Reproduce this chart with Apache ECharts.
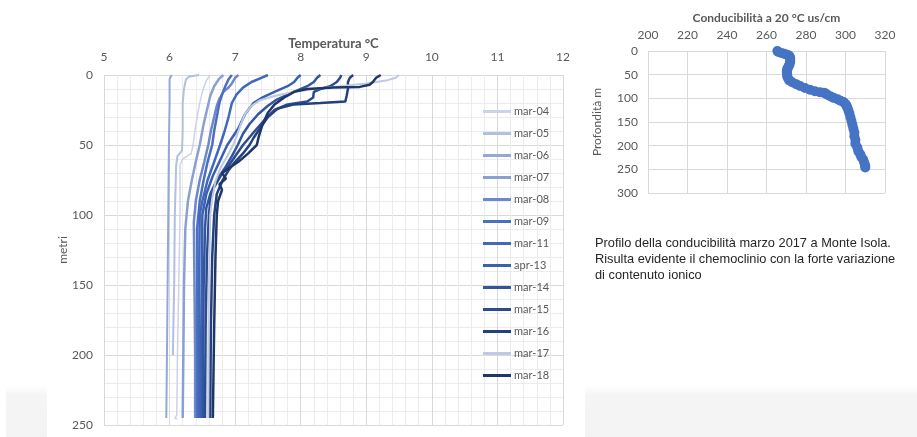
<!DOCTYPE html>
<html>
<head>
<meta charset="utf-8">
<script src="https://cdn.jsdelivr.net/npm/echarts@6/dist/echarts.min.js"></script>
<style>
  html, body { margin: 0; padding: 0; background: #ffffff; }
  #chart { width: 917px; height: 437px; }
</style>
</head>
<body>
<div id="chart"></div>
<script>
// Temperature profiles: each is a list of [temperature °C, depth m]
const seriesNames = ['mar-04','mar-05','mar-06','mar-07','mar-08','mar-09','mar-11','apr-13','mar-14','mar-15','mar-16','mar-17','mar-18'];
const seriesColors = ['#cbd3ea','#b2bfe0','#93a8d8','#8a9fd4','#6f88cb','#4a70c1','#4068bb','#3a60b0','#32559f','#2b4c90','#24407e','#bfc9e3','#1f3767'];
const seriesWidths = [1.5, 2, 2, 2.5, 2.5, 2.5, 2.5, 2.5, 2.5, 2.5, 2.5, 2, 2.5];

const mar04 = [[6.62,0],[6.56,4],[6.5,12],[6.46,20],[6.42,30],[6.38,42],[6.36,50],[6.33,56],[6.2,60],[6.16,64],[6.16,100],[6.14,150],[6.12,200],[6.11,243],[6.08,245],[6.12,246]];
const mar05 = [[6.45,0],[6.3,1],[6.25,3],[6.22,10],[6.2,20],[6.2,40],[6.19,54],[6.12,58],[6.1,65],[6.08,100],[6.07,150],[6.05,200]];
const mar06 = [[6.03,0],[6.0,3],[6.0,20],[5.99,50],[5.98,100],[5.97,150],[5.96,200],[5.95,245]];
const mar07 = [[6.82,0],[6.75,3],[6.68,8],[6.62,15],[6.57,25],[6.52,35],[6.46,50],[6.4,62],[6.34,75],[6.28,90],[6.24,110],[6.22,150],[6.21,200],[6.2,245]];
const mar08 = [[7.05,0],[7.0,2],[6.95,6],[6.9,9],[6.82,12],[6.76,17],[6.72,22],[6.68,30],[6.63,40],[6.59,50],[6.53,62],[6.46,75],[6.4,90],[6.37,105],[6.38,150],[6.39,200],[6.39,245]];
const mar09 = [[6.95,0],[6.9,3],[6.85,8],[6.8,14],[6.76,20],[6.72,30],[6.68,40],[6.65,50],[6.58,62],[6.52,75],[6.46,90],[6.42,110],[6.42,150],[6.42,200],[6.42,245]];
const mar11 = [[7.5,0],[7.4,2],[7.25,5],[7.12,9],[7.02,14],[6.95,20],[6.9,30],[6.84,40],[6.77,50],[6.68,62],[6.58,75],[6.5,90],[6.46,100],[6.45,150],[6.45,200],[6.45,245]];
const apr13 = [[8.0,0],[7.95,2],[7.9,5],[7.8,8],[7.6,12],[7.42,16],[7.28,20],[7.15,28],[7.05,38],[6.88,50],[6.78,60],[6.66,72],[6.56,85],[6.5,100],[6.49,150],[6.48,200],[6.48,245]];
const mar14 = [[8.3,0],[8.25,2],[8.2,5],[8.1,8],[7.95,11],[7.8,14],[7.62,18],[7.5,22],[7.35,28],[7.22,35],[7.12,42],[7.04,50],[6.95,58],[6.85,66],[6.72,75],[6.62,85],[6.56,95],[6.54,110],[6.52,150],[6.51,200],[6.51,245]];
const mar15 = [[8.62,0],[8.6,2],[8.55,5],[8.45,8],[8.3,10],[8.2,12],[8.19,16],[8.1,19],[7.8,21],[7.6,25],[7.45,32],[7.3,40],[7.12,50],[7.0,58],[6.9,65],[6.78,72],[6.68,80],[6.62,90],[6.6,100],[6.57,130],[6.55,180],[6.54,245]];
const mar16 = [[8.8,0],[8.75,2],[8.72,5],[8.72,10],[8.7,15],[8.68,19],[8.3,20],[7.9,21],[7.65,24],[7.5,30],[7.38,38],[7.28,45],[7.22,50],[7.12,56],[7.0,62],[6.9,68],[6.8,76],[6.72,85],[6.68,100],[6.65,130],[6.63,180],[6.62,245]];
const mar17 = [[9.5,0],[9.45,2],[9.3,4],[9.0,6],[8.6,8],[8.2,10],[7.9,12],[7.6,15],[7.38,18],[7.25,22],[7.15,28],[7.08,36],[7.02,44],[6.97,50],[6.88,58],[6.78,66],[6.7,76],[6.65,88],[6.62,100],[6.6,150],[6.59,200],[6.59,245]];
const mar18 = [[9.22,0],[9.15,2],[9.1,5],[9.05,7],[8.9,8.5],[8.5,9],[8.1,10],[7.9,12],[7.75,16],[7.6,21],[7.5,27],[7.42,35],[7.36,44],[7.33,50],[7.2,56],[7.05,62],[6.92,66],[6.8,70],[6.86,74],[6.76,78],[6.8,82],[6.74,90],[6.72,100],[6.7,130],[6.68,180],[6.66,245]];
const profiles = [mar04, mar05, mar06, mar07, mar08, mar09, mar11, apr13, mar14, mar15, mar16, mar17, mar18];

// Conductivity profile (March 2017): depth m and conductivity at 20 °C in µS/cm
const condDepth = [0,2,4,6,8,10,14,18,22,26,30,34,38,42,46,50,54,58,62,66,70,74,78,82,85,87,88,90,93,96,99,102,105,108,112,116,120,126,132,140,148,156,164,172,180,188,196,204,212,218,224,230,236,242,246];
const condValue = [265.5,266,267.5,269,270.5,271.5,272,272,272,271.8,271.5,271,270.5,270.3,270.3,270.5,270.5,271,271.5,273,275,277,279.5,282,284.5,287,289,290,291,292.5,294,296,297.5,299,300,300.5,301,301.5,302,302.5,303,303.5,304,304.5,304.5,305,305,306,306.5,307.5,308,309,309.5,310,310];

// Axis ticks
const tempTicks = { min: 5, max: 12, step: 1 };
const depthTicks = { min: 0, max: 250, step: 50 };
const condTicks = { min: 200, max: 320, step: 20 };
const condDepthTicks = { min: 0, max: 300, step: 50 };

const caption = ['Profilo della conducibilità marzo 2017 a Monte Isola.',
                 'Risulta evidente il chemoclinio con la forte variazione',
                 'di contenuto ionico'];

const FONT = 'Lato';
const LABEL = '#595959';

const chart = echarts.init(document.getElementById('chart'), null, { renderer: 'canvas' });

const tempSeries = seriesNames.map((name, i) => ({
  name: name,
  type: 'line',
  xAxisIndex: 0,
  yAxisIndex: 0,
  data: profiles[i],
  symbol: 'none',
  smooth: false,
  animation: false,
  lineStyle: { color: seriesColors[i], width: seriesWidths[i] },
  itemStyle: { color: seriesColors[i] },
  z: 3
}));

// Legend entries drawn as plain line swatches
const legendData = seriesNames.map((name, i) => ({
  name: name,
  icon: 'rect',
  itemStyle: { color: seriesColors[i], borderWidth: 0 }
}));

const option = {
  backgroundColor: '#ffffff',
  animation: false,
  grid: [
    { left: 104, top: 75, width: 459, height: 350, containLabel: false },
    { left: 648, top: 51, width: 237, height: 142, containLabel: false }
  ],
  legend: {
    data: legendData,
    orient: 'vertical',
    left: 483,
    top: 105,
    itemWidth: 28,
    itemHeight: 3,
    itemGap: 9,
    padding: 0,
    textStyle: { fontFamily: FONT, fontSize: 11, color: LABEL, lineHeight: 13, padding: [0, 0, 0, -2] }
  },
  xAxis: [
    {
      gridIndex: 0, type: 'value', position: 'top',
      min: tempTicks.min, max: tempTicks.max, interval: tempTicks.step,
      name: 'Temperatura °C', nameLocation: 'middle', nameGap: 25, nameMoveOverlap: false,
      nameTextStyle: { fontFamily: FONT, fontSize: 13, fontWeight: 'bold', color: LABEL },
      axisLine: { show: false }, axisTick: { show: false },
      axisLabel: { fontFamily: FONT, fontSize: 12, color: LABEL, margin: 12 },
      splitLine: { show: true, lineStyle: { color: '#d9d9d9', width: 1 } },
      minorTick: { show: false, splitNumber: 5 },
      minorSplitLine: { show: true, lineStyle: { color: '#ececec', width: 1 } }
    },
    {
      gridIndex: 1, type: 'value', position: 'top',
      min: condTicks.min, max: condTicks.max, interval: condTicks.step,
      name: 'Conducibilità a 20 °C us/cm', nameLocation: 'middle', nameGap: 27,
      nameTextStyle: { fontFamily: FONT, fontSize: 12, fontWeight: 'bold', color: LABEL },
      axisLine: { show: false }, axisTick: { show: false },
      axisLabel: { fontFamily: FONT, fontSize: 12, color: LABEL, margin: 10 },
      splitLine: { show: true, lineStyle: { color: '#d9d9d9', width: 1 } }
    }
  ],
  yAxis: [
    {
      gridIndex: 0, type: 'value', inverse: true,
      min: depthTicks.min, max: depthTicks.max, interval: depthTicks.step,
      name: 'metri', nameLocation: 'middle', nameGap: 35, nameRotate: 90, nameMoveOverlap: false,
      nameTextStyle: { fontFamily: FONT, fontSize: 12, color: LABEL },
      axisLine: { show: false }, axisTick: { show: false },
      axisLabel: { fontFamily: FONT, fontSize: 12, color: LABEL, margin: 11 },
      splitLine: { show: true, lineStyle: { color: '#d9d9d9', width: 1 } },
      minorTick: { show: false, splitNumber: 5 },
      minorSplitLine: { show: true, lineStyle: { color: '#ececec', width: 1 } }
    },
    {
      gridIndex: 1, type: 'value', inverse: true,
      min: condDepthTicks.min, max: condDepthTicks.max, interval: condDepthTicks.step,
      name: 'Profondità m', nameLocation: 'middle', nameGap: 45, nameRotate: 90,
      nameTextStyle: { fontFamily: FONT, fontSize: 12, color: LABEL },
      axisLine: { show: false }, axisTick: { show: false },
      axisLabel: { fontFamily: FONT, fontSize: 12, color: LABEL, margin: 10 },
      splitLine: { show: true, lineStyle: { color: '#d9d9d9', width: 1 } }
    }
  ],
  series: tempSeries.concat([
    {
      name: 'Conducibilità',
      type: 'scatter',
      xAxisIndex: 1, yAxisIndex: 1,
      data: condDepth.map((d, i) => [condValue[i], d]),
      symbol: 'circle',
      symbolSize: 10,
      itemStyle: { color: '#4674c4', opacity: 1 },
      animation: false,
      z: 3
    }
  ]),
  graphic: [
    {
      type: 'rect', left: 6, top: 385, shape: { width: 41, height: 52 }, silent: true, z: -10,
      style: { fill: new echarts.graphic.LinearGradient(0, 0, 0, 1, [{ offset: 0, color: '#ffffff' }, { offset: 0.2, color: '#f5f5f6' }, { offset: 1, color: '#f3f3f4' }]) }
    },
    {
      type: 'rect', left: 585, top: 385, shape: { width: 332, height: 52 }, silent: true, z: -10,
      style: { fill: new echarts.graphic.LinearGradient(0, 0, 0, 1, [{ offset: 0, color: '#ffffff' }, { offset: 0.2, color: '#f5f5f6' }, { offset: 1, color: '#f3f3f4' }]) }
    },
    {
      type: 'text', left: 595, top: 235, silent: true,
      style: {
        text: caption.join('\n'),
        font: '12.8px "Liberation Sans", Arial, sans-serif',
        fill: '#262626',
        lineHeight: 16
      }
    }
  ]
};

chart.setOption(option);
</script>
</body>
</html>
